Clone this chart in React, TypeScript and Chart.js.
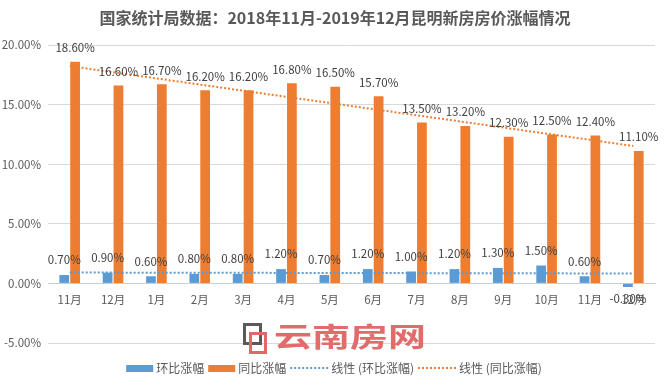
import React, { useEffect, useRef } from "react";
import { Chart, registerables } from "chart.js";

Chart.register(...registerables);

const FONT = '"Noto Sans CJK SC", "Noto Sans", sans-serif';

const titleText = "国家统计局数据：2018年11月-2019年12月昆明新房房价涨幅情况";
const categories = ["11月", "12月", "1月", "2月", "3月", "4月", "5月", "6月", "7月", "8月", "9月", "10月", "11月", "12月"];
const momValues = [0.7, 0.9, 0.6, 0.8, 0.8, 1.2, 0.7, 1.2, 1.0, 1.2, 1.3, 1.5, 0.6, -0.3];
const yoyValues = [18.6, 16.6, 16.7, 16.2, 16.2, 16.8, 16.5, 15.7, 13.5, 13.2, 12.3, 12.5, 12.4, 11.1];
const seriesNames = ["环比涨幅", "同比涨幅", "线性 (环比涨幅)", "线性 (同比涨幅)"];
const yMin = -5;
const yMax = 20;
const yStep = 5;
const watermarkText = "云南房网";

const BLUE = "#5b9bd5";
const ORANGE = "#ed7d31";

// Excel-style linear trendline (least squares) derived from the series values
function linearTrend(values: number[]): number[] {
  const n = values.length;
  const xs = values.map((_, i) => i + 1);
  const mx = xs.reduce((a, b) => a + b, 0) / n;
  const my = values.reduce((a, b) => a + b, 0) / n;
  let sxy = 0;
  let sxx = 0;
  for (let i = 0; i < n; i++) {
    sxy += (xs[i] - mx) * (values[i] - my);
    sxx += (xs[i] - mx) * (xs[i] - mx);
  }
  const slope = sxy / sxx;
  return xs.map((x) => my + slope * (x - mx));
}

const labelPlugin = {
  id: "barLabels",
  afterDatasetsDraw(chart: any) {
    const ctx = chart.ctx;
    ctx.save();
    ctx.font = `11.5px ${FONT}`;
    ctx.fillStyle = "#404040";
    ctx.textAlign = "center";
    ctx.textBaseline = "middle";
    [0, 1].forEach((di) => {
      const meta = chart.getDatasetMeta(di);
      const data = chart.data.datasets[di].data as number[];
      meta.data.forEach((el: any, i: number) => {
        const v = data[i];
        const txt = v.toFixed(2) + "%";
        const y = v >= 0 ? el.y - (di === 0 ? 15 : 14) : el.y + 12;
        ctx.fillText(txt, el.x, y);
      });
    });
    ctx.restore();
  },
};

const decorPlugin = {
  id: "decor",
  afterDraw(chart: any) {
    const ctx = chart.ctx;
    ctx.save();
    // title
    ctx.font = `bold 16px ${FONT}`;
    ctx.fillStyle = "#595959";
    ctx.textAlign = "center";
    ctx.textBaseline = "middle";
    ctx.fillText(titleText, 335, 18);

    // watermark
    ctx.lineWidth = 3;
    ctx.strokeStyle = "#5a5a5a";
    ctx.strokeRect(244.5, 324.5, 16, 19);
    ctx.strokeStyle = "#e06868";
    ctx.strokeRect(250.5, 333.5, 15, 19);
    ctx.save();
    ctx.translate(274, 337);
    ctx.scale(1, 0.72);
    ctx.font = `bold 38px ${FONT}`;
    ctx.fillStyle = "#e26c6c";
    ctx.textAlign = "left";
    ctx.textBaseline = "middle";
    ctx.fillText(watermarkText, 0, 0);
    ctx.restore();

    // legend
    ctx.font = `12px ${FONT}`;
    ctx.textAlign = "left";
    ctx.textBaseline = "middle";
    const ly = 368;
    const keyW = [27, 27, 38, 38];
    const colors = [BLUE, ORANGE, BLUE, ORANGE];
    const gapKey = 3;
    const gapItem = 4;
    const widths = seriesNames.map((s, i) => keyW[i] + gapKey + ctx.measureText(s).width);
    const total = widths.reduce((a, b) => a + b, 0) + gapItem * (widths.length - 1);
    let x = 334 - total / 2;
    seriesNames.forEach((s, i) => {
      if (i < 2) {
        ctx.fillStyle = colors[i];
        ctx.fillRect(x, ly - 3, keyW[i], 7);
      } else {
        ctx.strokeStyle = colors[i];
        ctx.lineWidth = 2;
        ctx.setLineDash([2, 2]);
        ctx.beginPath();
        ctx.moveTo(x, ly);
        ctx.lineTo(x + keyW[i], ly);
        ctx.stroke();
        ctx.setLineDash([]);
      }
      ctx.fillStyle = "#595959";
      ctx.fillText(s, x + keyW[i] + gapKey, ly);
      x += widths[i] + gapItem;
    });
    ctx.restore();
  },
};

export default function App() {
  const ref = useRef<HTMLCanvasElement | null>(null);

  useEffect(() => {
    document.body.style.margin = "0";
    const canvas = ref.current;
    if (!canvas) return;
    const chart = new Chart(canvas, {
      type: "bar",
      data: {
        labels: categories,
        datasets: [
          {
            type: "bar",
            label: seriesNames[0],
            data: momValues,
            backgroundColor: BLUE,
            order: 1,
            categoryPercentage: 0.5,
            barPercentage: 0.9,
          },
          {
            type: "bar",
            label: seriesNames[1],
            data: yoyValues,
            backgroundColor: ORANGE,
            order: 1,
            categoryPercentage: 0.5,
            barPercentage: 0.9,
          },
          {
            type: "line",
            label: seriesNames[2],
            data: linearTrend(momValues),
            borderColor: BLUE,
            borderWidth: 2,
            borderDash: [2, 2],
            pointRadius: 0,
            fill: false,
            tension: 0,
            order: 0,
          },
          {
            type: "line",
            label: seriesNames[3],
            data: linearTrend(yoyValues),
            borderColor: ORANGE,
            borderWidth: 2,
            borderDash: [2, 2],
            pointRadius: 0,
            fill: false,
            tension: 0,
            order: 0,
          },
        ] as any,
      },
      options: {
        responsive: false,
        animation: false,
        layout: { padding: { top: 45, bottom: 42, right: 16, left: 0 } },
        plugins: {
          legend: { display: false },
          title: { display: false },
          tooltip: { enabled: false },
        },
        scales: {
          x: {
            type: "category",
            position: { y: 0 } as any,
            grid: { display: false, drawTicks: false },
            border: { display: true, color: "#c5cfdc", width: 1 },
            ticks: {
              color: "#595959",
              font: { family: FONT, size: 11.5 },
              padding: 9,
              maxRotation: 0,
              autoSkip: false,
            },
          },
          y: {
            min: yMin,
            max: yMax,
            grid: { color: "#d9d9d9", drawTicks: false },
            border: { display: false },
            ticks: {
              stepSize: yStep,
              color: "#595959",
              font: { family: FONT, size: 11.5 },
              padding: 7,
              callback: (v: any) => Number(v).toFixed(2) + "%",
            },
            afterFit: (s: any) => {
              s.width = 48;
            },
          },
        },
      },
      plugins: [labelPlugin, decorPlugin],
    });
    return () => chart.destroy();
  }, []);

  return <canvas ref={ref} width={671} height={385} style={{ display: "block", width: 671, height: 385 }} />;
}
